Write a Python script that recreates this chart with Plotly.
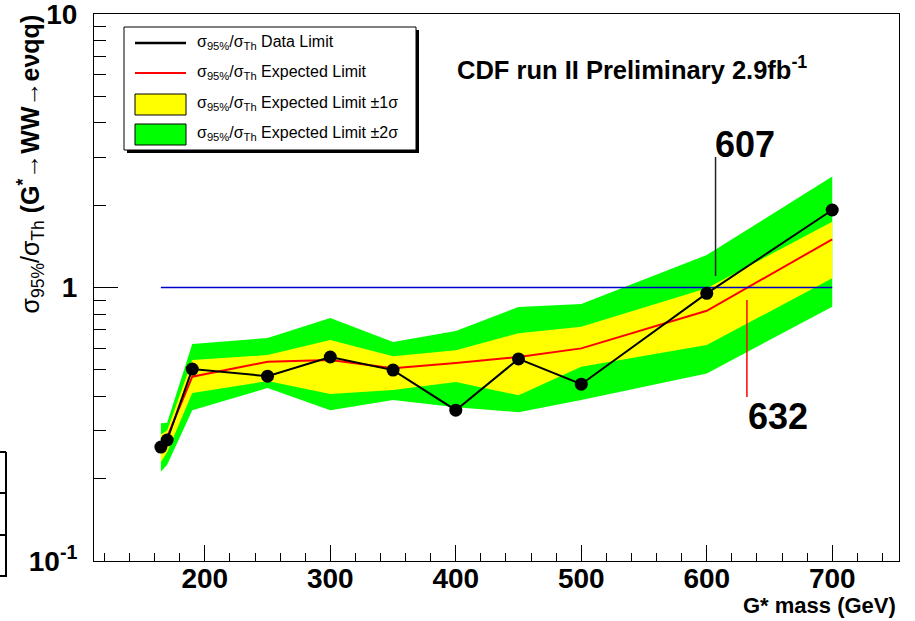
import plotly.graph_objects as go

# ---------------- data ----------------
mass = [165, 170, 190, 250, 300, 350, 400, 450, 500, 600, 700]
data_limit = [0.261, 0.277, 0.503, 0.474, 0.557, 0.499, 0.356, 0.548, 0.443, 0.952, 1.92]
expected = [0.254, 0.284, 0.472, 0.535, 0.543, 0.507, 0.530, 0.557, 0.599, 0.822, 1.50]
yellow_hi = [0.290, 0.300, 0.543, 0.566, 0.643, 0.561, 0.590, 0.681, 0.719, 0.993, 1.741]
yellow_lo = [0.230, 0.250, 0.411, 0.455, 0.408, 0.422, 0.451, 0.404, 0.513, 0.616, 1.081]
green_hi = [0.319, 0.320, 0.621, 0.654, 0.773, 0.632, 0.693, 0.849, 0.870, 1.315, 2.545]
green_lo = [0.212, 0.225, 0.356, 0.429, 0.356, 0.388, 0.365, 0.350, 0.388, 0.485, 0.851]
unity_x = [165, 700]
unity_y = [1, 1]
obs_cross = 607
exp_cross = 632

x_ticks = [200, 300, 400, 500, 600, 700]
y_ticks = [0.1, 1, 10]
y_ticktext = ["10<sup>-1</sup>", "1", "10"]
y_minor = [0.2, 0.3, 0.4, 0.5, 0.6, 0.7, 0.8, 0.9, 2, 3, 4, 5, 6, 7, 8, 9]

FONT = "Liberation Sans, Arial, Helvetica, sans-serif"

# plot area in pixels: x 94..899, y 14..561
L, R, T, B = 94, 899, 14, 561


def px(xp):
    return (xp - L) / (R - L)


def py(yp):
    return (B - yp) / (B - T)


fig = go.Figure()

fig.add_trace(go.Scatter(x=mass + mass[::-1], y=green_hi + green_lo[::-1],
                         fill="toself", fillcolor="#00ff00", mode="lines",
                         line=dict(width=0, color="#00ff00"), hoverinfo="skip"))
fig.add_trace(go.Scatter(x=mass + mass[::-1], y=yellow_hi + yellow_lo[::-1],
                         fill="toself", fillcolor="#ffff00", mode="lines",
                         line=dict(width=0, color="#ffff00"), hoverinfo="skip"))
fig.add_trace(go.Scatter(x=mass, y=expected, mode="lines",
                         line=dict(color="#ff0000", width=2)))
fig.add_trace(go.Scatter(x=unity_x, y=unity_y, mode="lines",
                         line=dict(color="#0000c8", width=1.3)))
fig.add_trace(go.Scatter(x=mass, y=data_limit, mode="lines+markers",
                         line=dict(color="black", width=2),
                         marker=dict(color="black", size=13)))

shapes = []
# stray frame of neighbouring figure at left edge
shapes.append(dict(type="line", xref="paper", yref="paper", x0=px(6), x1=px(6),
                   y0=py(452), y1=py(577), line=dict(color="black", width=2)))
for yy in [452, 493, 535, 576]:
    shapes.append(dict(type="line", xref="paper", yref="paper", x0=px(0), x1=px(6),
                       y0=py(yy), y1=py(yy), line=dict(color="black", width=2)))

# crossing markers
shapes.append(dict(type="line", xref="x", yref="paper", x0=obs_cross, x1=obs_cross,
                   y0=py(157), y1=py(276), line=dict(color="#222222", width=1.5)))
shapes.append(dict(type="line", xref="x", yref="paper", x0=exp_cross, x1=exp_cross,
                   y0=py(300), y1=py(397), line=dict(color="#ff0000", width=1.5)))

# legend box with shadow
shapes.append(dict(type="rect", xref="paper", yref="paper", x0=px(127), x1=px(419),
                   y0=py(153), y1=py(30), fillcolor="black", line=dict(width=0),
                   layer="above"))
shapes.append(dict(type="rect", xref="paper", yref="paper", x0=px(124), x1=px(416),
                   y0=py(150), y1=py(27), fillcolor="white",
                   line=dict(color="black", width=1), layer="above"))
shapes.append(dict(type="line", xref="paper", yref="paper", x0=px(135), x1=px(186),
                   y0=py(43), y1=py(43), line=dict(color="black", width=2.5), layer="above"))
shapes.append(dict(type="line", xref="paper", yref="paper", x0=px(135), x1=px(186),
                   y0=py(73), y1=py(73), line=dict(color="#ff0000", width=2), layer="above"))
shapes.append(dict(type="rect", xref="paper", yref="paper", x0=px(135), x1=px(186),
                   y0=py(115), y1=py(94), fillcolor="#ffff00",
                   line=dict(color="black", width=1), layer="above"))
shapes.append(dict(type="rect", xref="paper", yref="paper", x0=px(135), x1=px(186),
                   y0=py(145), y1=py(124), fillcolor="#00ff00",
                   line=dict(color="black", width=1), layer="above"))

sig = "σ<sub>95%</sub>/σ<sub>Th</sub> "
legend_texts = [sig + "Data Limit", sig + "Expected Limit",
                sig + "Expected Limit ±1σ", sig + "Expected Limit ±2σ"]
legend_rows = [42, 72, 103, 133]

annotations = []
for txt, row in zip(legend_texts, legend_rows):
    annotations.append(dict(text=txt, xref="paper", yref="paper", x=px(195), y=py(row),
                            xanchor="left", yanchor="middle", showarrow=False,
                            font=dict(family=FONT, size=16, color="black")))

annotations.append(dict(text="<b>CDF run II Preliminary 2.9fb<sup>-1</sup></b>",
                        xref="paper", yref="paper", x=px(455), y=py(68),
                        xanchor="left", yanchor="middle", showarrow=False,
                        font=dict(family=FONT, size=25.5, color="black")))
annotations.append(dict(text="<b>%d</b>" % obs_cross, xref="paper", yref="paper",
                        x=px(745), y=py(144), xanchor="center", yanchor="middle",
                        showarrow=False, font=dict(family=FONT, size=36, color="black")))
annotations.append(dict(text="<b>%d</b>" % exp_cross, xref="paper", yref="paper",
                        x=px(778), y=py(416), xanchor="center", yanchor="middle",
                        showarrow=False, font=dict(family=FONT, size=36, color="black")))
annotations.append(dict(text="<b>G* mass (GeV)</b>", xref="paper", yref="paper",
                        x=px(898), y=py(605), xanchor="right", yanchor="middle",
                        showarrow=False, font=dict(family=FONT, size=22, color="black")))
annotations.append(dict(text="σ<sub>95%</sub>/σ<sub>Th</sub> <b>(G<sup>*</sup>→WW→eνqq)</b>",
                        xref="paper", yref="paper", x=px(30), y=py(13),
                        xanchor="center", yanchor="top", textangle=-90,
                        showarrow=False, font=dict(family=FONT, size=25, color="black")))

fig.update_layout(
    width=915, height=621,
    margin=dict(l=L, r=915 - R, t=T, b=621 - B, pad=0, autoexpand=False),
    paper_bgcolor="white", plot_bgcolor="white",
    showlegend=False,
    shapes=shapes, annotations=annotations,
    xaxis=dict(range=[111.7, 753.2], tickmode="array", tickvals=x_ticks,
               ticks="inside", ticklen=16, tickwidth=1, tickcolor="black",
               showline=True, linecolor="black", linewidth=1, mirror=True,
               showgrid=False, zeroline=False, ticklabelstandoff=-8,
               ticklabeloverflow="allow", automargin=False,
               tickfont=dict(family=FONT, size=28, color="black", weight="bold"),
               minor=dict(ticks="inside", ticklen=8, tickwidth=1, tickcolor="black",
                          dtick=20, tick0=100, showgrid=False)),
    yaxis=dict(type="log", range=[-1, 1], tickmode="array", tickvals=y_ticks,
               ticktext=y_ticktext, ticks="inside", ticklen=24, tickwidth=1,
               tickcolor="black", showline=True, linecolor="black", linewidth=1,
               mirror=True, showgrid=False, zeroline=False,
               ticklabelstandoff=10, ticklabeloverflow="allow", automargin=False,
               tickfont=dict(family=FONT, size=28, color="black", weight="bold"),
               minor=dict(ticks="inside", ticklen=12, tickwidth=1, tickcolor="black",
                          tickvals=y_minor, showgrid=False)),
)

fig.write_html("out.html")
